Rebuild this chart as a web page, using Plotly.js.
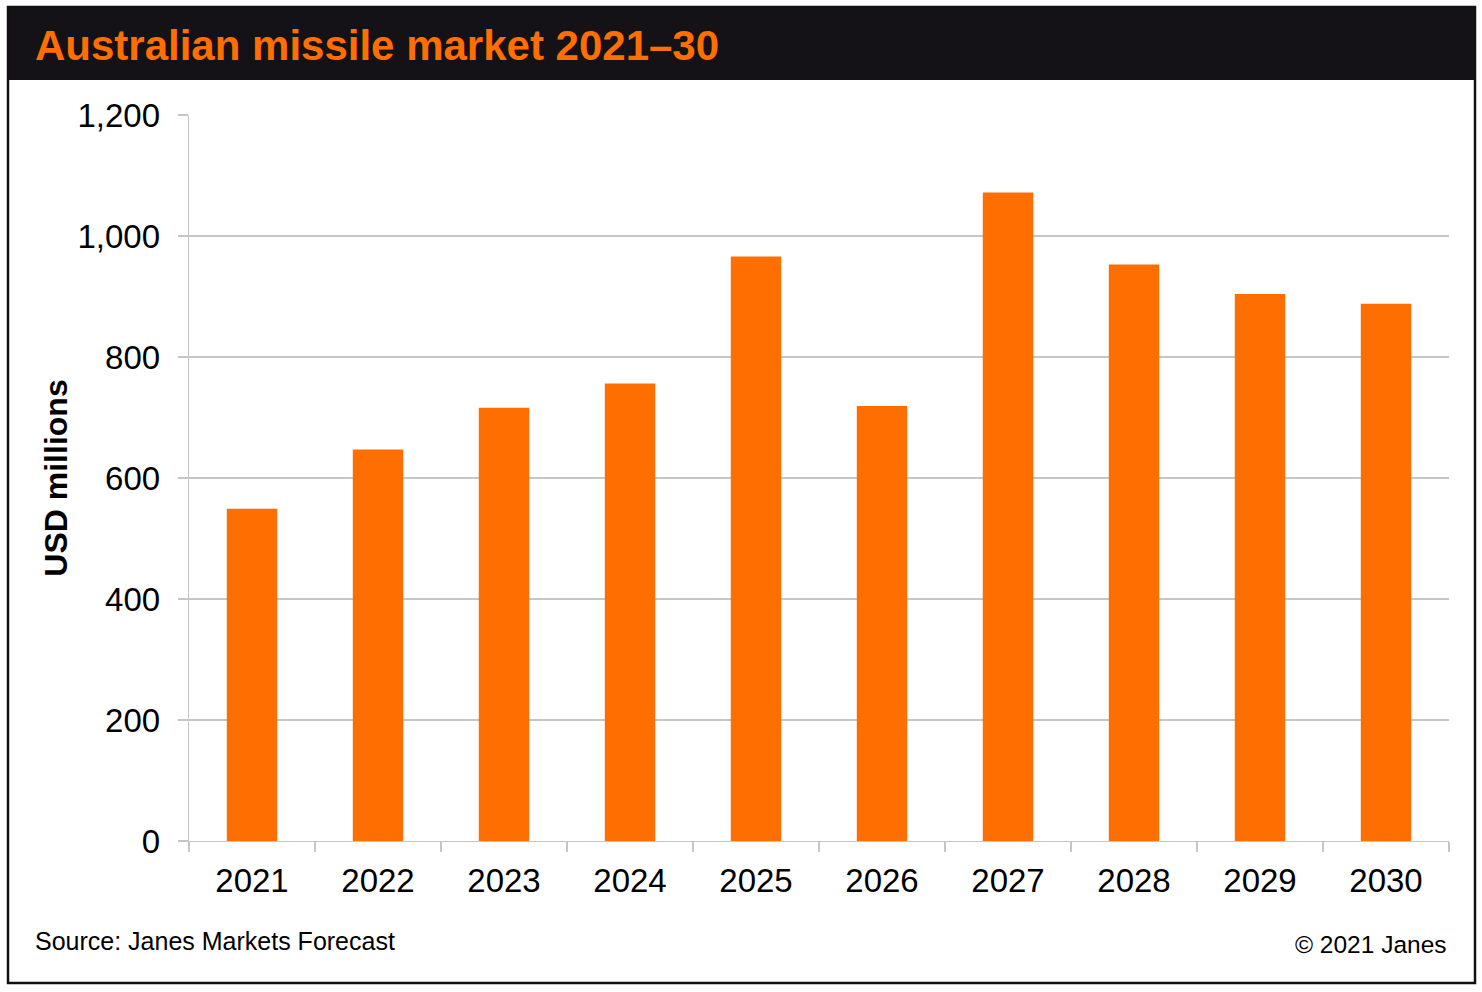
<!DOCTYPE html>
<html>
<head>
<meta charset="utf-8">
<script src="https://cdn.plot.ly/plotly-3.0.1.min.js"></script>
<style>
  html, body { margin: 0; padding: 0; background: #ffffff; }
  #chart { width: 1482px; height: 992px; }
</style>
</head>
<body>
<div id="chart"></div>
<script>
const years = ['2021', '2022', '2023', '2024', '2025', '2026', '2027', '2028', '2029', '2030'];
const marketValues = [549, 647, 716, 756, 966, 719, 1072, 953, 904, 888];
const yTickValues = [0, 200, 400, 600, 800, 1000, 1200];

const chartTitle = 'Australian missile market 2021–30';
const yAxisTitle = 'USD millions';
const sourceText = 'Source: Janes Markets Forecast';
const copyrightText = '© 2021 Janes';

const FONT = 'Liberation Sans, Arial, Helvetica, sans-serif';
const ORANGE = '#FF6E00';
const GRID = '#c6c6c6';

// plot area pixel geometry
const W = 1482, H = 992;
const L = 189, R = 33, T = 115, B = 151;
const pw = W - L - R, ph = H - T - B;
const px = x => (x - L) / pw;
const py = y => (H - B - y) / ph;

const trace = {
  type: 'bar',
  x: years,
  y: marketValues,
  marker: { color: ORANGE, line: { width: 0 } },
  hoverinfo: 'x+y'
};

const layout = {
  width: W,
  height: H,
  margin: { l: L, r: R, t: T, b: B, autoexpand: false },
  paper_bgcolor: '#ffffff',
  plot_bgcolor: '#ffffff',
  showlegend: false,
  bargap: 0.6,
  font: { family: FONT, color: '#000000' },
  xaxis: {
    type: 'category',
    tickson: 'boundaries',
    ticks: 'outside',
    ticklen: 10,
    tickwidth: 1.3,
    tickcolor: GRID,
    showline: true,
    linecolor: GRID,
    linewidth: 1.3,
    showgrid: false,
    ticklabelstandoff: 10,
    tickfont: { family: FONT, size: 33, color: '#000000' },
    fixedrange: true
  },
  yaxis: {
    range: [0, 1200],
    tickmode: 'array',
    tickvals: yTickValues,
    ticktext: yTickValues.map(v => v.toLocaleString('en-US')),
    ticks: 'outside',
    ticklen: 10,
    tickwidth: 1.3,
    tickcolor: GRID,
    showline: true,
    linecolor: GRID,
    linewidth: 1.3,
    showgrid: true,
    gridcolor: GRID,
    gridwidth: 1.3,
    zeroline: false,
    ticklabelstandoff: 11,
    tickfont: { family: FONT, size: 33, color: '#000000' },
    title: {
      text: yAxisTitle,
      standoff: 0,
      font: { family: FONT, size: 32, color: '#000000', weight: 'bold' }
    },
    fixedrange: true
  },
  shapes: [
    {
      type: 'rect', xref: 'paper', yref: 'paper', layer: 'below',
      x0: px(8), x1: px(1475), y0: py(80), y1: py(7),
      fillcolor: '#141216', line: { width: 0 }
    },
    {
      type: 'rect', xref: 'paper', yref: 'paper', layer: 'above',
      x0: px(8), x1: px(1475), y0: py(983), y1: py(7),
      fillcolor: 'rgba(0,0,0,0)', line: { color: '#111111', width: 2.5 }
    }
  ],
  annotations: [
    {
      text: '<b>' + chartTitle + '</b>',
      xref: 'paper', yref: 'paper',
      x: px(33), y: py(46),
      xanchor: 'left', yanchor: 'middle',
      showarrow: false,
      font: { family: FONT, size: 42, color: ORANGE }
    },
    {
      text: sourceText,
      xref: 'paper', yref: 'paper',
      x: px(33), y: py(941),
      xanchor: 'left', yanchor: 'middle',
      showarrow: false,
      font: { family: FONT, size: 25, color: '#000000' }
    },
    {
      text: copyrightText,
      xref: 'paper', yref: 'paper',
      x: px(1449), y: py(944),
      xanchor: 'right', yanchor: 'middle',
      showarrow: false,
      font: { family: FONT, size: 24.5, color: '#000000' }
    }
  ]
};

Plotly.newPlot('chart', [trace], layout, { displayModeBar: false, staticPlot: true });
</script>
</body>
</html>
